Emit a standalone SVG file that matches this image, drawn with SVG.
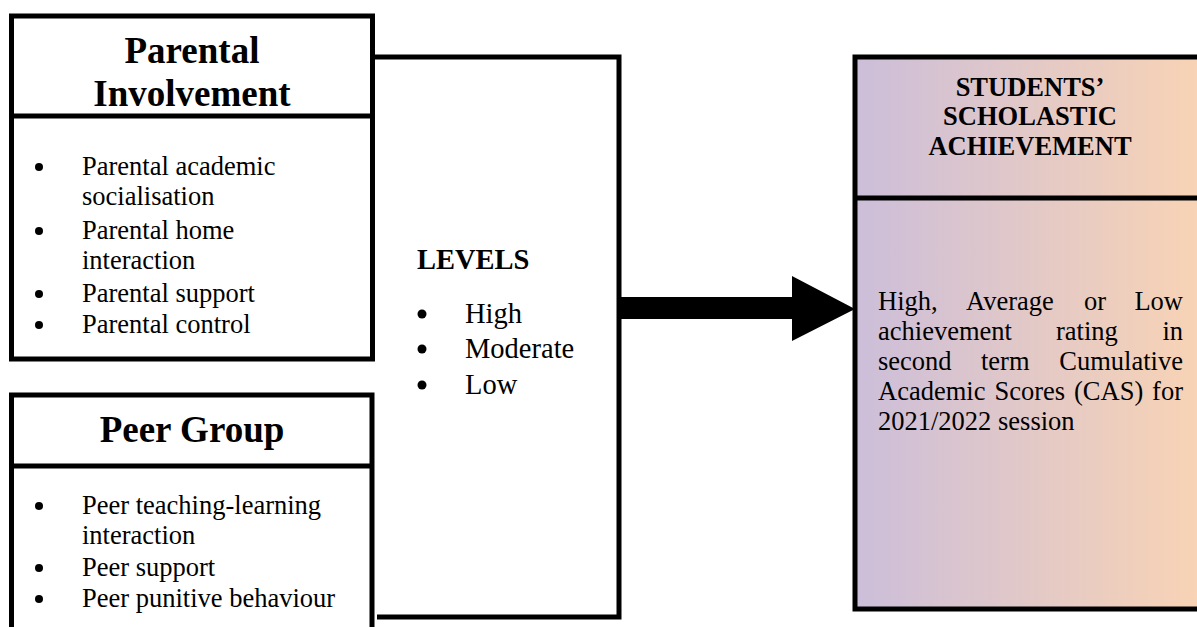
<svg xmlns="http://www.w3.org/2000/svg" width="1197" height="627" viewBox="0 0 1197 627">
<defs>
<linearGradient id="grad" x1="0" y1="0" x2="1" y2="0">
<stop offset="0" stop-color="#CCBEDA"/>
<stop offset="1" stop-color="#FAD4B3"/>
</linearGradient>
<style>
.box{fill:none;stroke:#000;stroke-width:5}
.ln{stroke:#000;stroke-width:5;fill:none}
.title{font-family:"Liberation Serif","Times New Roman",serif;font-weight:bold;font-size:37px;text-anchor:middle}
.hdr{font-family:"Liberation Serif","Times New Roman",serif;font-weight:bold;font-size:26.5px;text-anchor:middle}
.t{font-family:"Liberation Serif","Times New Roman",serif;font-size:26.5px}
.tm{font-family:"Liberation Serif","Times New Roman",serif;font-size:28.5px}
.lv{font-family:"Liberation Serif","Times New Roman",serif;font-weight:bold;font-size:28.5px}
.dot{fill:#000}
</style>
</defs>
<rect width="1197" height="627" fill="#fff"/>

<g id="parental">
<rect class="box" x="11.5" y="16" width="361" height="343"/>
<line class="ln" x1="11.5" y1="116" x2="372.5" y2="116"/>
<text class="title" x="192" y="63">Parental</text>
<text class="title" x="192" y="106">Involvement</text>
<circle class="dot" cx="39" cy="167" r="4"/>
<text class="t" x="82" y="175">Parental academic</text>
<text class="t" x="82" y="205">socialisation</text>
<circle class="dot" cx="39" cy="231" r="4"/>
<text class="t" x="82" y="239">Parental home</text>
<text class="t" x="82" y="269">interaction</text>
<circle class="dot" cx="39" cy="294" r="4"/>
<text class="t" x="82" y="302">Parental support</text>
<circle class="dot" cx="39" cy="325" r="4"/>
<text class="t" x="82" y="333">Parental control</text>
</g>

<g id="peer">
<path class="ln" d="M11.5 640 V395 H372 V640"/>
<line class="ln" x1="11.5" y1="466" x2="372" y2="466"/>
<text class="title" x="192" y="442">Peer Group</text>
<circle class="dot" cx="39" cy="506" r="4"/>
<text class="t" x="82" y="514">Peer teaching-learning</text>
<text class="t" x="82" y="544">interaction</text>
<circle class="dot" cx="39" cy="568" r="4"/>
<text class="t" x="82" y="576">Peer support</text>
<circle class="dot" cx="39" cy="599" r="4"/>
<text class="t" x="82" y="607">Peer punitive behaviour</text>
</g>

<g id="levels">
<path class="ln" d="M372.5 57 H619 V617 H377"/>
<text class="lv" x="417" y="269">LEVELS</text>
<circle class="dot" cx="422" cy="314" r="4.5"/>
<text class="tm" x="465" y="323">High</text>
<circle class="dot" cx="422" cy="349" r="4.5"/>
<text class="tm" x="465" y="358">Moderate</text>
<circle class="dot" cx="422" cy="385" r="4.5"/>
<text class="tm" x="465" y="394">Low</text>
</g>

<g id="achievement">
<rect x="855" y="57" width="360" height="552" fill="url(#grad)" stroke="#000" stroke-width="5"/>
<line class="ln" x1="855" y1="198" x2="1215" y2="198"/>
<text class="hdr" x="1030" y="96">STUDENTS’</text>
<text class="hdr" x="1030" y="125">SCHOLASTIC</text>
<text class="hdr" x="1030" y="155">ACHIEVEMENT</text>
<text class="t" y="310"><tspan x="878">High,</tspan> <tspan x="966">Average</tspan> <tspan x="1084">or</tspan> <tspan x="1134.4">Low</tspan></text>
<text class="t" y="340"><tspan x="878">achievement</tspan> <tspan x="1056">rating</tspan> <tspan x="1162.4">in</tspan></text>
<text class="t" y="370"><tspan x="878">second</tspan> <tspan x="981">term</tspan> <tspan x="1059.3">Cumulative</tspan></text>
<text class="t" y="400"><tspan x="878">Academic</tspan> <tspan x="994.4">Scores</tspan> <tspan x="1074">(CAS)</tspan> <tspan x="1152.1">for</tspan></text>
<text class="t" x="878" y="430">2021/2022 session</text>
</g>

<g id="connectors">
<polygon points="620,297 792,297 792,276 855,309 792,341 792,319 620,319" fill="#000"/>
</g>
</svg>
